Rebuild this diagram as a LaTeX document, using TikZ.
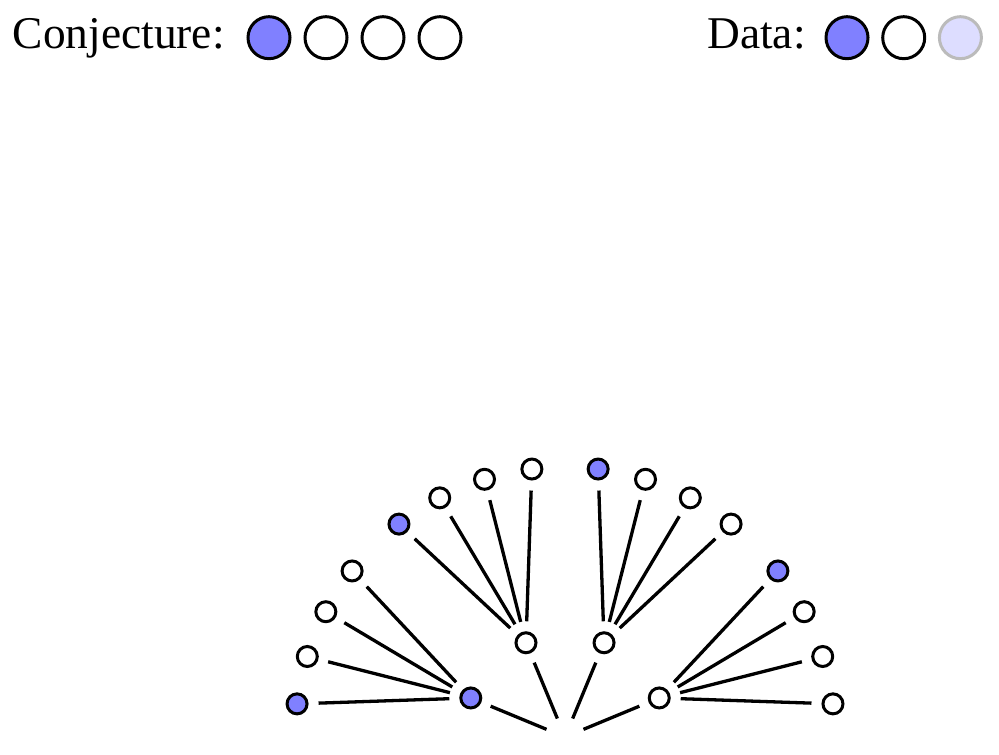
\documentclass[tikz,border=0pt]{standalone}
\usepackage{fontspec}
\setmainfont{Liberation Serif}
\usetikzlibrary{positioning}
\definecolor{conjblue}{RGB}{128,128,255}
\definecolor{datapale}{RGB}{221,221,255}
\definecolor{datagray}{RGB}{187,187,187}

\begin{document}
\begin{tikzpicture}[x=0.5pt,y=0.5pt,
  dot/.style={circle, draw, line width=1.5pt, inner sep=0pt, minimum size=10pt},
  key/.style={circle, draw, line width=1.5pt, inner sep=0pt, minimum size=21pt},
  edge/.style={line width=1.65pt, shorten <=5pt, shorten >=5pt}]
  \useasboundingbox (0,0) rectangle (999,754);

  % Legend on top
  \node[anchor=base west, inner sep=0pt, font=\fontsize{22.7}{27}\selectfont] (conjtext) at (12.5,705.7) {Conjecture:};
  \foreach \i/\f in {1/conjblue,2/white,3/white,4/white} {
    \node[key, fill=\f] (conj\i) at ({269+57*(\i-1)},716.3) {};
  }
  \node[anchor=base west, inner sep=0pt, font=\fontsize{22.7}{27}\selectfont] (datatext) at (707,705.7) {Data:};
  \foreach \i/\f/\d in {1/conjblue/black,2/white/black,3/datapale/datagray} {
    \node[key, fill=\f, draw=\d] (data\i) at ({847+56.7*(\i-1)},716.3) {};
  }

  % Radii of the two rings around the root
  \def\rchild{102}
  \def\rleaf{270}
  \coordinate (root) at (565,17);

  \foreach \k in {1,...,4} {
    \pgfmathsetmacro\a{157.5-45*(\k-1)}
    \ifnum\k=1 \def\f{conjblue}\else\def\f{white}\fi
    \node[dot, fill=\f] (c\k) at ([shift={(\a:\rchild)}]root) {};
    \draw[edge, shorten <=10pt] (root) -- (c\k);
    % four leaves per child, the first one is blue
    \foreach \j/\o in {1/15.45,2/5.15,3/-5.15,4/-15.45} {
      \ifnum\j=1 \def\g{conjblue}\else\def\g{white}\fi
      \node[dot, fill=\g] (c\k-\j) at ([shift={(\a+\o:\rleaf)}]root) {};
      \draw[edge] (c\k) -- (c\k-\j);
    }
  }
\end{tikzpicture}
\end{document}
